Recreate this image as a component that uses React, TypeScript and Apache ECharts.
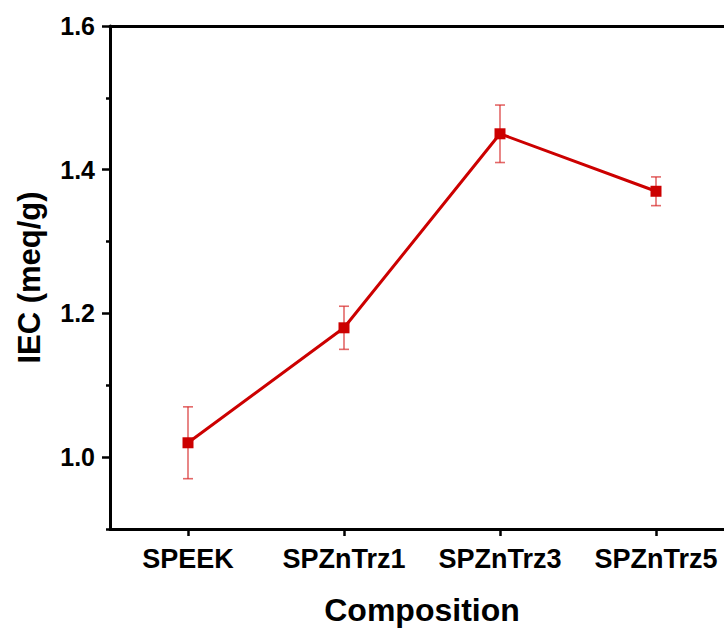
import React, { useEffect, useRef } from "react";
import * as echarts from "echarts";

const categories = ["SPEEK", "SPZnTrz1", "SPZnTrz3", "SPZnTrz5"];
const iecValues = [1.02, 1.18, 1.45, 1.37];
const iecErrors = [0.05, 0.03, 0.04, 0.02];
const majorTicks = [1.0, 1.2, 1.4, 1.6];
const minorTicks = [0.9, 1.1, 1.3, 1.5];

const FONT = "'Liberation Sans', Arial, Helvetica, sans-serif";

export default function App() {
  const ref = useRef<HTMLDivElement>(null);
  useEffect(() => {
    if (!ref.current) return;
    const chart = echarts.init(ref.current, null, { renderer: "svg" });
    const errData = categories.map((c, i) => [i, iecValues[i] - iecErrors[i], iecValues[i] + iecErrors[i]]);
    chart.setOption({
      animation: false,
      backgroundColor: "#ffffff",
      grid: { left: 110, top: 26, bottom: 99, right: 0, containLabel: false, outerBoundsMode: "none" },
      xAxis: [
        {
          type: "category",
          data: categories,
          position: "bottom",
          boundaryGap: true,
          axisLine: { show: true, lineStyle: { color: "#000", width: 3 } },
          axisTick: { show: true, interval: 0, alignWithLabel: true, inside: false, length: 7, lineStyle: { color: "#000", width: 2.5 } },
          axisLabel: { interval: 0, color: "#000", fontFamily: FONT, fontWeight: "bold", fontSize: 27, margin: 16 },
          name: "Composition",
          nameLocation: "middle",
          nameGap: 65,
          nameTextStyle: { color: "#000", fontFamily: FONT, fontWeight: "bold", fontSize: 32 },
          splitLine: { show: false },
        },
        {
          type: "category",
          data: categories,
          position: "top",
          axisLine: { show: true, lineStyle: { color: "#000", width: 3 } },
          axisTick: { show: false },
          axisLabel: { show: false },
          splitLine: { show: false },
        },
      ],
      yAxis: [
        {
          type: "value",
          min: 0.9,
          max: 1.6,
          position: "left",
          axisLine: { show: true, lineStyle: { color: "#000", width: 3 } },
          axisTick: { show: true, length: 8, customValues: majorTicks, lineStyle: { color: "#000", width: 2.5 } },
          axisLabel: {
            color: "#000",
            fontFamily: FONT,
            fontWeight: "bold",
            fontSize: 25,
            margin: 15,
            customValues: majorTicks,
            formatter: (v: number) => v.toFixed(1),
          },
          splitLine: { show: false },
          name: "IEC (meq/g)",
          nameLocation: "middle",
          nameGap: 65,
          nameRotate: 90,
          nameTextStyle: { color: "#000", fontFamily: FONT, fontWeight: "bold", fontSize: 31 },
        },
        {
          type: "value",
          min: 0.9,
          max: 1.6,
          position: "left",
          axisLine: { show: false },
          axisTick: { show: true, length: 4, customValues: minorTicks, lineStyle: { color: "#000", width: 2.5 } },
          axisLabel: { show: false },
          splitLine: { show: false },
        },
      ],
      series: [
        {
          type: "custom",
          xAxisIndex: 0,
          yAxisIndex: 0,
          z: 1,
          data: errData,
          renderItem: (params: any, api: any) => {
            const x = api.value(0);
            const lo = api.coord([x, api.value(1)]);
            const hi = api.coord([x, api.value(2)]);
            const hw = 5;
            const style = { stroke: "rgba(215,40,40,0.7)", lineWidth: 1.6, fill: "none" };
            return {
              type: "group",
              children: [
                { type: "line", shape: { x1: lo[0], y1: lo[1], x2: hi[0], y2: hi[1] }, style },
                { type: "line", shape: { x1: lo[0] - hw, y1: lo[1], x2: lo[0] + hw, y2: lo[1] }, style },
                { type: "line", shape: { x1: hi[0] - hw, y1: hi[1], x2: hi[0] + hw, y2: hi[1] }, style },
              ],
            };
          },
        },
        {
          type: "line",
          xAxisIndex: 0,
          yAxisIndex: 0,
          z: 3,
          data: iecValues,
          symbol: "rect",
          symbolSize: 11,
          lineStyle: { color: "#cc0000", width: 3 },
          itemStyle: { color: "#cc0000", borderWidth: 0 },
        },
      ],
    });
    return () => chart.dispose();
  }, []);
  return (
    <div style={{ position: "absolute", left: 0, top: 0, width: 724, height: 628, overflow: "hidden", background: "#fff" }}>
      <div ref={ref} style={{ width: 734, height: 628 }} />
    </div>
  );
}
